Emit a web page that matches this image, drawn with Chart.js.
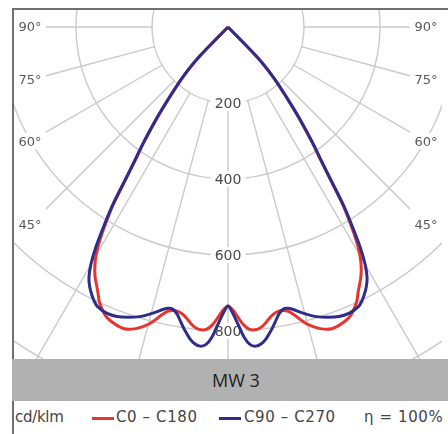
<!DOCTYPE html>
<html><head><meta charset="utf-8">
<script src="https://cdn.jsdelivr.net/npm/chart.js@4.4.0/dist/chart.umd.min.js"></script>
<style>
html,body{margin:0;padding:0;background:#fff;}
#wrap{position:relative;width:448px;height:434px;overflow:hidden;background:#fff;}
#c{position:absolute;left:0;top:0;}
#band{position:absolute;left:12px;top:359px;width:436px;height:42px;background:#b1b1b1;color:#222;font:18px "Open Sans",sans-serif;line-height:42px;text-align:center;box-sizing:border-box;padding-left:12px;}
#legend{position:absolute;left:12px;top:401px;width:436px;height:33px;border-left:2px solid #707070;box-sizing:border-box;font:15px "DejaVu Sans",sans-serif;color:#444;letter-spacing:0.6px;}
#legend span{position:absolute;top:7px;white-space:nowrap;line-height:18px;}
#legend i{position:absolute;top:16px;height:3px;width:22px;}
</style>
</head><body>
<div id="wrap">
<canvas id="c" width="448" height="359"></canvas>
<div id="band">MW 3</div>
<div id="legend">
<span style="left:1px;letter-spacing:-0.3px">cd/klm</span>
<i style="left:78px;background:#e8342f"></i>
<span style="left:102px">C0 – C180</span>
<i style="left:205px;background:#2e2d8c"></i>
<span style="left:230px">C90 – C270</span>
<span style="left:350px">η = 100%</span>
</div>
</div>
<script>
// Half-plane angles (degrees from nadir); curves are symmetric about 0°
const angles = [0,1,2,3,4,5,6,7,8,9,10,11,12,13,14,15,17,19,21,23,25,26,27,28,29,30,31,32,33,34,35,36,38,40,42,44,90];
const c0c180 = [734,745,765,785,797,800,797,788,775,765,760,760,765,778,795,810,830,840,836,825,800,780,762,745,723,695,655,605,548,475,420,380,300,232,178,110,0];
const c90c270 = [734,755,785,818,838,843,838,826,808,788,768,757,757,763,772,781,797,808,816,818,812,803,790,775,755,722,675,615,555,480,425,385,305,235,180,112,0];
const radiusTicks = [200,400,600,800];
const gridCircles = [200,400,600,800,1000];
const gridAngles = [0,15,30,45,60,75,90];
const angleLabels = [90,75,60,45];
const seriesNames = ['C0 – C180','C90 – C270'];
const seriesColors = ['#e8342f','#2e2d8c'];

function toXY(vals){
  const pts = [];
  for (let i = angles.length-1; i >= 0; i--) {
    const t = -angles[i]*Math.PI/180;
    pts.push({x: vals[i]*Math.sin(t), y: -vals[i]*Math.cos(t)});
  }
  for (let i = 1; i < angles.length; i++) {
    const t = angles[i]*Math.PI/180;
    pts.push({x: vals[i]*Math.sin(t), y: -vals[i]*Math.cos(t)});
  }
  return pts;
}

const K = 0.38; // px per cd/klm
const polarGrid = {
  id: 'polarGrid',
  beforeDatasetsDraw(chart){
    const {ctx, chartArea:a, scales:{x, y}} = chart;
    const cx = x.getPixelForValue(0), cy = y.getPixelForValue(0);
    const k = x.getPixelForValue(1) - cx;
    ctx.save();
    ctx.beginPath(); ctx.rect(a.left, a.top, a.right-a.left, a.bottom-a.top); ctx.clip();
    ctx.strokeStyle = '#cacaca'; ctx.lineWidth = 1.4;
    gridCircles.forEach(r => { ctx.beginPath(); ctx.arc(cx, cy, r*k, 0, Math.PI*2); ctx.stroke(); });
    const r0 = gridCircles[0]*k;
    const labW = 32;
    gridAngles.forEach(g => {
      const sides = g === 0 ? [1] : [-1, 1];
      sides.forEach(s => {
        const t = g*Math.PI/180;
        const dx = s*Math.sin(t), dy = Math.cos(t);
        let len = 2000;
        if (g >= 45) {
          const xl = s < 0 ? a.left + labW : a.right - labW;
          len = (xl - cx)/dx;
        }
        ctx.beginPath();
        ctx.moveTo(cx + dx*r0, cy + dy*r0);
        ctx.lineTo(cx + dx*len, cy + dy*len);
        ctx.stroke();
      });
    });
    ctx.font = '14px "DejaVu Sans", sans-serif';
    ctx.textAlign = 'center'; ctx.textBaseline = 'middle';
    radiusTicks.forEach(r => {
      const py = cy + r*k;
      const w = ctx.measureText(String(r)).width + 8;
      ctx.fillStyle = '#fff'; ctx.fillRect(cx - w/2, py - 8, w, 16);
      ctx.fillStyle = '#4a4a4a'; ctx.fillText(String(r), cx, py + 1);
    });
    ctx.font = '13px "DejaVu Sans", sans-serif';
    angleLabels.forEach(g => {
      const t = g*Math.PI/180;
      [-1, 1].forEach(s => {
        const lx = s < 0 ? a.left + 16 : a.right - 16;
        const py = g === 90 ? cy : cy + Math.abs(lx - cx)/Math.tan(t);
        ctx.fillStyle = '#fff'; ctx.fillRect(lx - 16, py - 8, 32, 16);
        ctx.fillStyle = '#5a5a5a'; ctx.fillText(g + '°', lx, py + 1);
      });
    });
    ctx.restore();
  },
  afterDraw(chart){
    const {ctx} = chart;
    ctx.save();
    ctx.fillStyle = '#707070';
    ctx.fillRect(12, 8, 436, 2);
    ctx.fillRect(12, 8, 2, 351);
    ctx.restore();
  }
};

const padL = 14, padT = 10, padR = 6;
const W = 448, H = 359;
const cxPx = 228, cyPx = 27;
new Chart(document.getElementById('c'), {
  type: 'scatter',
  data: {
    datasets: [
      {label: seriesNames[0], data: toXY(c0c180), showLine: true, borderColor: seriesColors[0], borderWidth: 3, pointRadius: 0, tension: 0.3, order: 2},
      {label: seriesNames[1], data: toXY(c90c270), showLine: true, borderColor: seriesColors[1], borderWidth: 3, pointRadius: 0, tension: 0.3, order: 1}
    ]
  },
  options: {
    responsive: false, animation: false, devicePixelRatio: 1,
    layout: {padding: {left: padL, top: padT, right: padR, bottom: 0}},
    plugins: {legend: {display: false}, tooltip: {enabled: false}},
    scales: {
      x: {type: 'linear', display: false, min: -(cxPx - padL)/K, max: (W - padR - cxPx)/K},
      y: {type: 'linear', display: false, min: -(H - cyPx)/K, max: (cyPx - padT)/K}
    }
  },
  plugins: [polarGrid]
});
</script>
</body></html>
